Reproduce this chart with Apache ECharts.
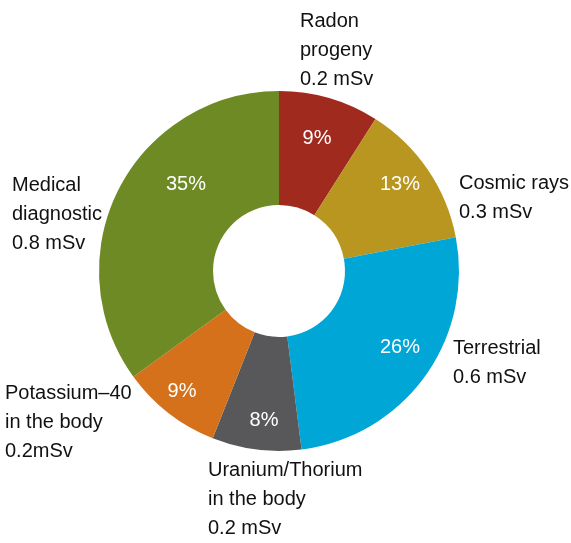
<!DOCTYPE html>
<html>
<head>
<meta charset="utf-8">
<script src="https://cdn.jsdelivr.net/npm/echarts@6/dist/echarts.min.js"></script>
<style>
html,body{margin:0;padding:0;background:#fff;}
#c{width:571px;height:543px;}
</style>
</head>
<body>
<div id="c"></div>
<script>
// ---- data ----
var categories = ["Radon\nprogeny", "Cosmic rays", "Terrestrial", "Uranium/Thorium\nin the body", "Potassium\u201340\nin the body", "Medical\ndiagnostic"];
var percents = [9, 13, 26, 8, 9, 35];
var doseLabels = ["0.2 mSv", "0.3 mSv", "0.6 mSv", "0.2 mSv", "0.2mSv", "0.8 mSv"];
var colors = ["#a12a1f", "#b9961f", "#00a6d6", "#58585a", "#d4711a", "#6d8a25"];

// ---- layout (label block top-left corners, percent label centres) ----
var labelPos = [[300, 7], [459, 169], [453, 334], [208, 456], [5, 379], [12, 171]];
var pctPos = [[317, 138], [400, 184], [400, 347], [264, 420], [182, 391], [186, 184]];

var FONT = "'Liberation Sans Narrow', 'Liberation Sans', Arial, sans-serif";
var center = [279, 271];

var baseData = categories.map(function (n, i) {
  return { name: n, value: percents[i], itemStyle: { color: colors[i] } };
});
var clearData = categories.map(function (n, i) {
  return { name: n, value: percents[i], itemStyle: { color: 'rgba(0,0,0,0)' } };
});

var chart = echarts.init(document.getElementById('c'), null, { renderer: 'canvas' });
chart.setOption({
  animation: false,
  backgroundColor: '#fff',
  series: [
    {
      type: 'pie', center: center, radius: [66, 180], startAngle: 90,
      clockwise: true, silent: true,
      label: { show: false }, labelLine: { show: false },
      itemStyle: { borderWidth: 0 },
      data: baseData
    },
    {
      type: 'pie', center: center, radius: [110, 180], startAngle: 90,
      clockwise: true, silent: true,
      label: {
        show: true, position: 'inside', color: '#fff',
        fontFamily: FONT, fontSize: 20, overflow: 'none',
        formatter: function (p) { return percents[p.dataIndex] + '%'; }
      },
      labelLayout: function (params) {
        var pos = pctPos[params.dataIndex];
        return { x: pos[0], y: pos[1], align: 'center', verticalAlign: 'middle' };
      },
      labelLine: { show: false },
      data: clearData
    },
    {
      type: 'pie', center: center, radius: [66, 180], startAngle: 90,
      clockwise: true, silent: true,
      label: {
        show: true, position: 'outside', color: '#111',
        fontFamily: FONT, fontSize: 20, lineHeight: 29, align: 'left',
        overflow: 'none', width: 300,
        formatter: function (p) { return categories[p.dataIndex] + '\n' + doseLabels[p.dataIndex]; }
      },
      labelLine: { show: false },
      labelLayout: function (params) {
        var pos = labelPos[params.dataIndex];
        return { x: pos[0], y: pos[1], align: 'left', verticalAlign: 'top' };
      },
      data: clearData
    }
  ]
});
</script>
</body>
</html>
